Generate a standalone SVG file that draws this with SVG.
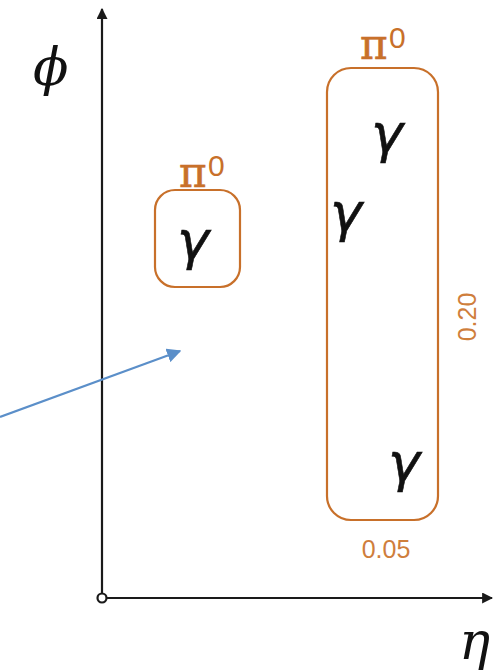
<svg xmlns="http://www.w3.org/2000/svg" width="498" height="670" viewBox="0 0 498 670">
<style>
.axis{stroke:#1a1a1a;stroke-width:2.2;fill:none}
.box{fill:none;stroke:#c8702a;stroke-width:2.2}
.g{font-family:"DejaVu Sans","Noto Sans",sans-serif;font-style:italic;font-size:54px;fill:#111;stroke:#111;stroke-width:0.6}
.pi{font-family:"DejaVu Serif","Liberation Serif",serif;font-size:42px;fill:#c8702a;stroke:#c8702a;stroke-width:0.6}
.sup{font-family:"Liberation Sans",Arial,sans-serif;font-size:30px;fill:#c8702a}
.dim{font-family:"Liberation Sans",Arial,sans-serif;font-size:25px;fill:#cf7e3c}
.lab{font-family:"DejaVu Serif","Liberation Serif",serif;font-style:italic;font-size:52px;fill:#111}
</style>
<defs>
<marker id="ah" viewBox="0 0 10 10" refX="9" refY="5" markerWidth="5" markerHeight="5" orient="auto" markerUnits="strokeWidth">
<path d="M0,0 L10,5 L0,10 z" fill="#1a1a1a"/>
</marker>
<marker id="bh" viewBox="0 0 10 10" refX="9" refY="5" markerWidth="6.5" markerHeight="6.5" orient="auto" markerUnits="strokeWidth">
<path d="M0,0 L10,5 L0,10 z" fill="#5b8fc9"/>
</marker>
</defs>
<g id="axes">
<line class="axis" x1="102" y1="593" x2="102" y2="9" marker-end="url(#ah)"/>
<line class="axis" x1="107" y1="598" x2="492" y2="598" marker-end="url(#ah)"/>
<circle cx="102" cy="598" r="4.5" fill="#fff" stroke="#1a1a1a" stroke-width="2.2"/>
<text class="lab" x="33" y="85">ϕ</text>
<text class="lab" x="459" y="659">η</text>
</g>
<g id="pi0-small">
<rect class="box" x="155" y="190" width="85" height="97" rx="20"/>
<text class="pi" x="179" y="187">π</text>
<text class="sup" x="208" y="176">0</text>
<text class="g" x="177" y="259">γ</text>
</g>
<g id="pi0-large">
<rect class="box" x="327" y="68" width="111" height="452" rx="24"/>
<text class="pi" x="360" y="59">π</text>
<text class="sup" x="389" y="48">0</text>
<text class="g" x="371" y="152">γ</text>
<text class="g" x="330" y="231">γ</text>
<text class="g" x="388" y="481">γ</text>
<text class="dim" x="386" y="558" text-anchor="middle">0.05</text>
<text class="dim" transform="translate(476,317) rotate(-90)" text-anchor="middle">0.20</text>
</g>
<g id="connectors">
<line x1="0" y1="417" x2="180" y2="351" stroke="#5b8fc9" stroke-width="2.2" marker-end="url(#bh)"/>
</g>
</svg>
